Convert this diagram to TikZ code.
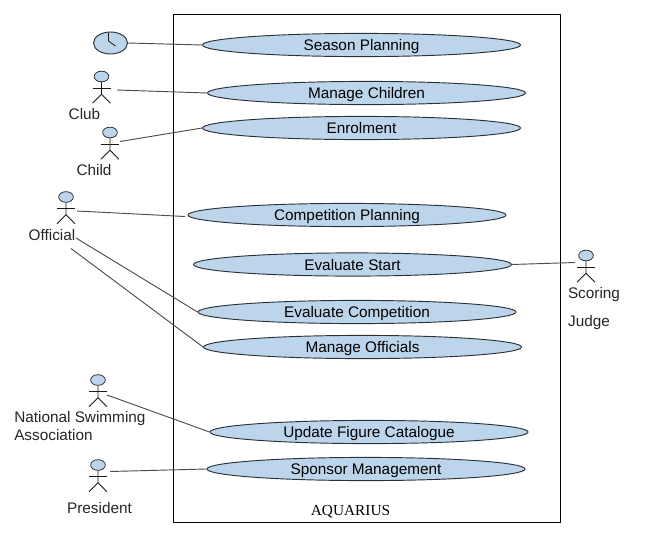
\documentclass[tikz,border=0pt]{standalone}
\usepackage{fontspec}
\setmainfont{Liberation Sans}
\newfontfamily\serifcap{Liberation Serif}
\usetikzlibrary{shapes.geometric,calc}
\definecolor{ufill}{HTML}{BDD5EB}
\definecolor{uline}{HTML}{2B3138}
\tikzset{
  x=0.75pt,y=-0.75pt,
  usecase/.style={ellipse,draw=uline,fill=ufill,line width=0.7pt,inner sep=0pt,minimum width=238.5pt,minimum height=16.5pt,text height=10.3pt,text depth=2pt,font=\fontsize{11.5pt}{13pt}\selectfont},
  label/.style={inner sep=0pt,font=\fontsize{11.5pt}{13pt}\selectfont,text=black!85},
  link/.style={draw=black!70,line width=0.7pt},
  figure/.style={draw=black!90,line width=0.6pt},
  actorhead/.style={ellipse,draw=uline,fill=ufill,line width=0.6pt,inner sep=0pt,minimum width=11pt,minimum height=8pt}
}
\newcommand{\actorfig}[3]{% name, x, head y
  \node[actorhead] (#1) at (#2,#3) {};
  \draw[figure] (#1.south) -- ++(0,12) coordinate (#1hip) -- ++(-9,9);
  \draw[figure] (#1hip) -- ++(9,9);
  \draw[figure] ($(#1.south)+(-9,6)$) -- ++(18,0);
}
\begin{document}
\begin{tikzpicture}
\useasboundingbox (0,0) rectangle (650,554);
\node[draw=black,line width=0.7pt,minimum width=290.25pt,minimum height=381pt,inner sep=0pt] (system) at (366.5,268) {};
\node[inner sep=0pt,font=\serifcap\fontsize{11.5pt}{13pt}\selectfont] (title) at (350.5,512) {AQUARIUS};

\node[usecase] (season) at (361.5,45) {Season Planning};
\node[usecase] (manage) at (366.5,93) {Manage Children};
\node[usecase] (enrol) at (361.5,128) {Enrolment};
\node[usecase] (comp) at (347,215) {Competition Planning};
\node[usecase] (start) at (352.5,264.5) {Evaluate Start};
\node[usecase] (evalc) at (357,312) {Evaluate Competition};
\node[usecase] (offs) at (362.5,347) {Manage Officials};
\node[usecase] (figure) at (369,432) {Update Figure Catalogue};
\node[usecase] (sponsor) at (366,469) {Sponsor Management};

\node[ellipse,draw=uline,fill=ufill,line width=0.7pt,inner sep=0pt,minimum width=25.5pt,minimum height=16.5pt] (clock) at (110.5,43) {};
\draw[figure] (108.5,33) -- (108.5,41) -- (115.5,46);

\actorfig{club}{101.5}{76.5}
\actorfig{child}{110}{132.5}
\actorfig{official}{66}{197}
\actorfig{nsa}{98}{380}
\actorfig{president}{98}{465}
\actorfig{scoring}{586}{255.5}

\node[label] (clubl) at (84.5,114) {Club};
\node[label] (childl) at (94,170) {Child};
\node[label] (officiall) at (52,235.5) {Official};
\node[label,align=left,anchor=north west] (nsal) at (14,411) {National Swimming\\[0.6pt]Association};
\node[label] (presl) at (99.5,508) {President};
\node[label] (scorl) at (594,295) {Scoring};
\node[label] (judgl) at (589,323) {Judge};

\coordinate (clubh) at (117,90);
\coordinate (childh) at (120,141.5);
\coordinate (offh) at (77,211);
\coordinate (compe) at (185,216.5);
\coordinate (nsah) at (107,395);
\coordinate (presh) at (110,471.5);
\coordinate (scorh) at (575,262.5);
\coordinate (off1) at (76,238);
\coordinate (off2) at (71,248.5);

\draw[link] (clock.east) -- (season.west);
\draw[link] (clubh) -- (manage.west);
\draw[link] (childh) -- (enrol.west);
\draw[link] (offh) -- (compe);
\draw[link] (off1) -- (evalc.west);
\draw[link] (off2) -- (offs.west);
\draw[link] (start.east) -- (scorh);
\draw[link] (nsah) -- (figure.west);
\draw[link] (presh) -- (sponsor.west);
\end{tikzpicture}
\end{document}
